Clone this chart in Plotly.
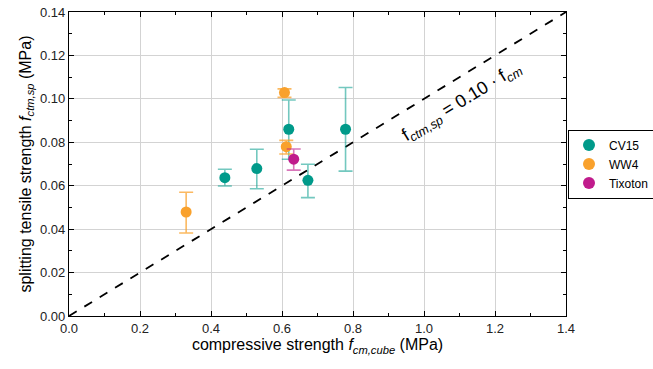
import plotly.graph_objects as go

# CV15
cv15_x = [0.439, 0.529, 0.619, 0.673, 0.779]
cv15_y = [0.0637, 0.0679, 0.0860, 0.0625, 0.0860]
cv15_err_plus = [0.0039, 0.0089, 0.0135, 0.0074, 0.0192]
cv15_err_minus = [0.0038, 0.0093, 0.0138, 0.0080, 0.0193]
# WW4
ww4_x = [0.607, 0.612, 0.330]
ww4_y = [0.1029, 0.0780, 0.0479]
ww4_err_plus = [0.0017, 0.0029, 0.0091]
ww4_err_minus = [0.0022, 0.0034, 0.0097]
# Tixoton
tix_x = [0.633]
tix_y = [0.0722]
tix_err_plus = [0.0047]
tix_err_minus = [0.0050]

line_x = [0.0, 1.4]
line_y = [0.0, 0.14]

fig = go.Figure()
fig.add_trace(go.Scatter(x=line_x, y=line_y, mode="lines",
                         line=dict(color="black", width=1.8, dash="dash"),
                         showlegend=False, hoverinfo="skip"))

def add(name, x, y, ep, em, color, errcolor):
    fig.add_trace(go.Scatter(
        x=x, y=y, mode="markers", name=name,
        marker=dict(color=color, size=11),
        error_y=dict(type="data", array=ep, arrayminus=em, color=errcolor,
                     thickness=1.6, width=7, symmetric=False)))

add("CV15", cv15_x, cv15_y, cv15_err_plus, cv15_err_minus, "#009a8a", "rgba(0,154,138,0.55)")
add("WW4", ww4_x, ww4_y, ww4_err_plus, ww4_err_minus, "#f9a12c", "rgba(249,161,44,0.75)")
add("Tixoton", tix_x, tix_y, tix_err_plus, tix_err_minus, "#c01b8c", "rgba(192,27,140,0.6)")

fig.add_annotation(x=1.105, y=0.0985, xref="x", yref="y",
                   text="f<sub><i>ctm,sp</i></sub> = 0.10 · f<sub><i>cm</i></sub>",
                   showarrow=False, textangle=-31.5,
                   font=dict(family="Arial", size=18, color="black"))

axis_common = dict(showline=True, linecolor="black", linewidth=1.2, mirror="ticks",
                   ticks="inside", ticklen=5, tickcolor="black", showgrid=True,
                   gridcolor="#d3d3d3", gridwidth=1, zeroline=False, automargin=False,
                   tickfont=dict(family="Arial", size=13, color="#222"))

fig.update_xaxes(range=[0, 1.4], dtick=0.2, tickformat=".1f",
                 minor=dict(dtick=0.1, ticks="inside", ticklen=3, tickcolor="black", showgrid=False),
                 title=dict(text="compressive strength <i>f</i><sub><i>cm,cube</i></sub> (MPa)",
                            font=dict(family="Arial", size=16, color="black"), standoff=4),
                 **axis_common)
fig.update_yaxes(range=[0, 0.14], dtick=0.02, tickformat=".2f",
                 minor=dict(dtick=0.01, ticks="inside", ticklen=3, tickcolor="black", showgrid=False),
                 title=dict(text="splitting tensile strength <i>f</i><sub><i>ctm,sp</i></sub> (MPa)",
                            font=dict(family="Arial", size=16, color="black"), standoff=4),
                 **axis_common)

fig.update_layout(width=653, height=369, plot_bgcolor="white", paper_bgcolor="white",
                  margin=dict(l=69, r=87, t=12, b=53, autoexpand=False),
                  font=dict(family="Arial"),
                  legend=dict(x=1.004, y=0.5, xanchor="left", yanchor="middle",
                              bordercolor="black", borderwidth=1, bgcolor="white",
                              font=dict(family="Arial", size=12, color="black"),
                              itemwidth=30, itemsizing="constant", tracegroupgap=0))
fig.write_html("out.html", config={"displayModeBar": False},
               post_script="document.body.style.margin='0';document.body.style.overflow='hidden';")
